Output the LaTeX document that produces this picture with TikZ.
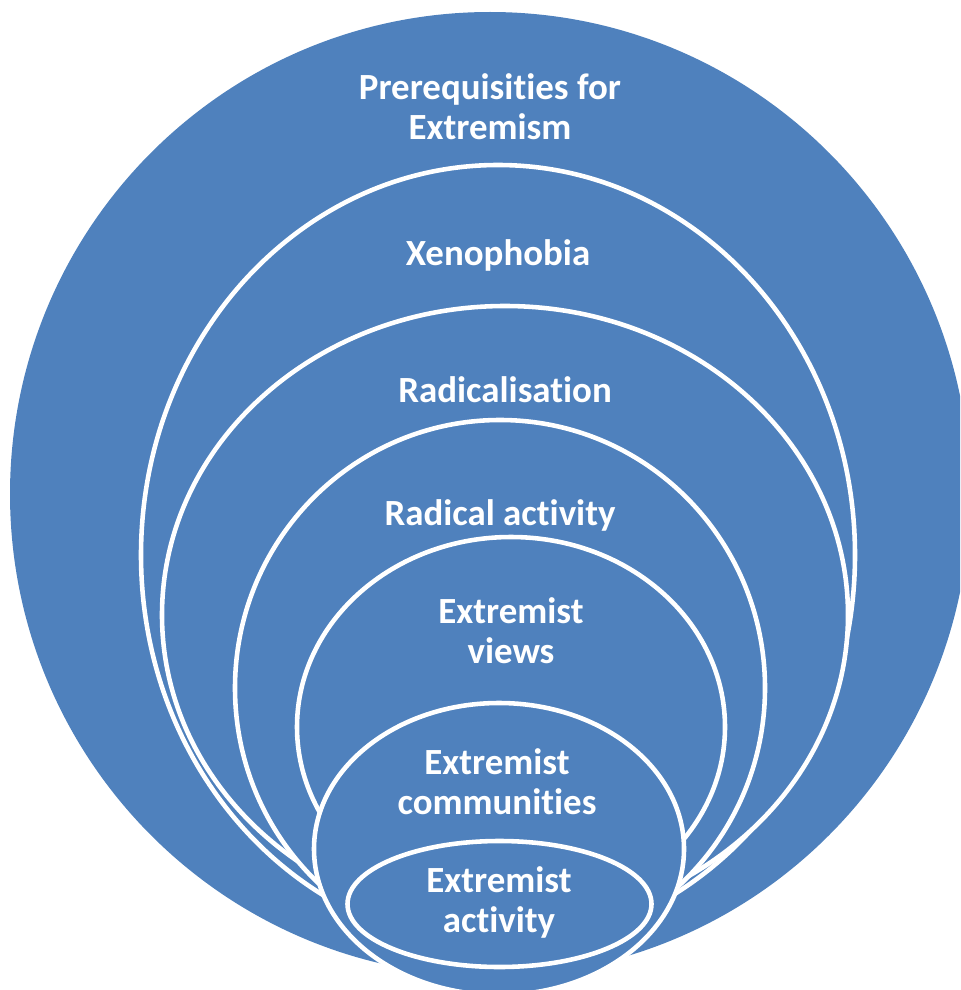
\documentclass[tikz,border=0pt]{standalone}
\usepackage{fontspec}
\setmainfont{Carlito}[RawFeature={-liga;-clig;-dlig}]

\definecolor{ringblue}{RGB}{79,129,189}

\tikzset{
  ring/.style={fill=ringblue, draw=white, line width=2.6pt},
  ringlabel/.style={text=white, align=center, font=\fontsize{21}{22.8}\selectfont\bfseries}
}

\begin{document}
\begin{tikzpicture}[x=0.02cm, y=-0.02cm]

    % Keep the page at the size of the picture
    \clip (0,0) rectangle (960,990);

    % Draw the outer circle
    \fill[ringblue] (490,494) ellipse [x radius=480, y radius=482];

    % Draw the nested rings, largest first
    \draw[ring] (498,555) ellipse [x radius=357, y radius=390];
    \draw[ring] (505,615) ellipse [x radius=343, y radius=309];
    \draw[ring] (500,688) ellipse [x radius=265, y radius=268];
    \draw[ring] (511,727) ellipse [x radius=214, y radius=190];
    \draw[ring] (499,849) ellipse [x radius=185, y radius=146];
    \draw[ring] (499.5,904) ellipse [x radius=152, y radius=63];

    % Label the rings
    \node[ringlabel] (prereq) at (490,107) {Prerequisities for\\Extremism};
    \node[ringlabel] (xeno) at (498,255) {Xenophobia};
    \node[ringlabel] (radic) at (505,390) {Radicalisation};
    \node[ringlabel] (radact) at (500,515) {Radical activity};
    \node[ringlabel] (views) at (511,631) {Extremist\\views};
    \node[ringlabel] (comm) at (497,782) {Extremist\\communities};
    \node[ringlabel] (act) at (499,902) {Extremist\\activity};

\end{tikzpicture}
\end{document}
